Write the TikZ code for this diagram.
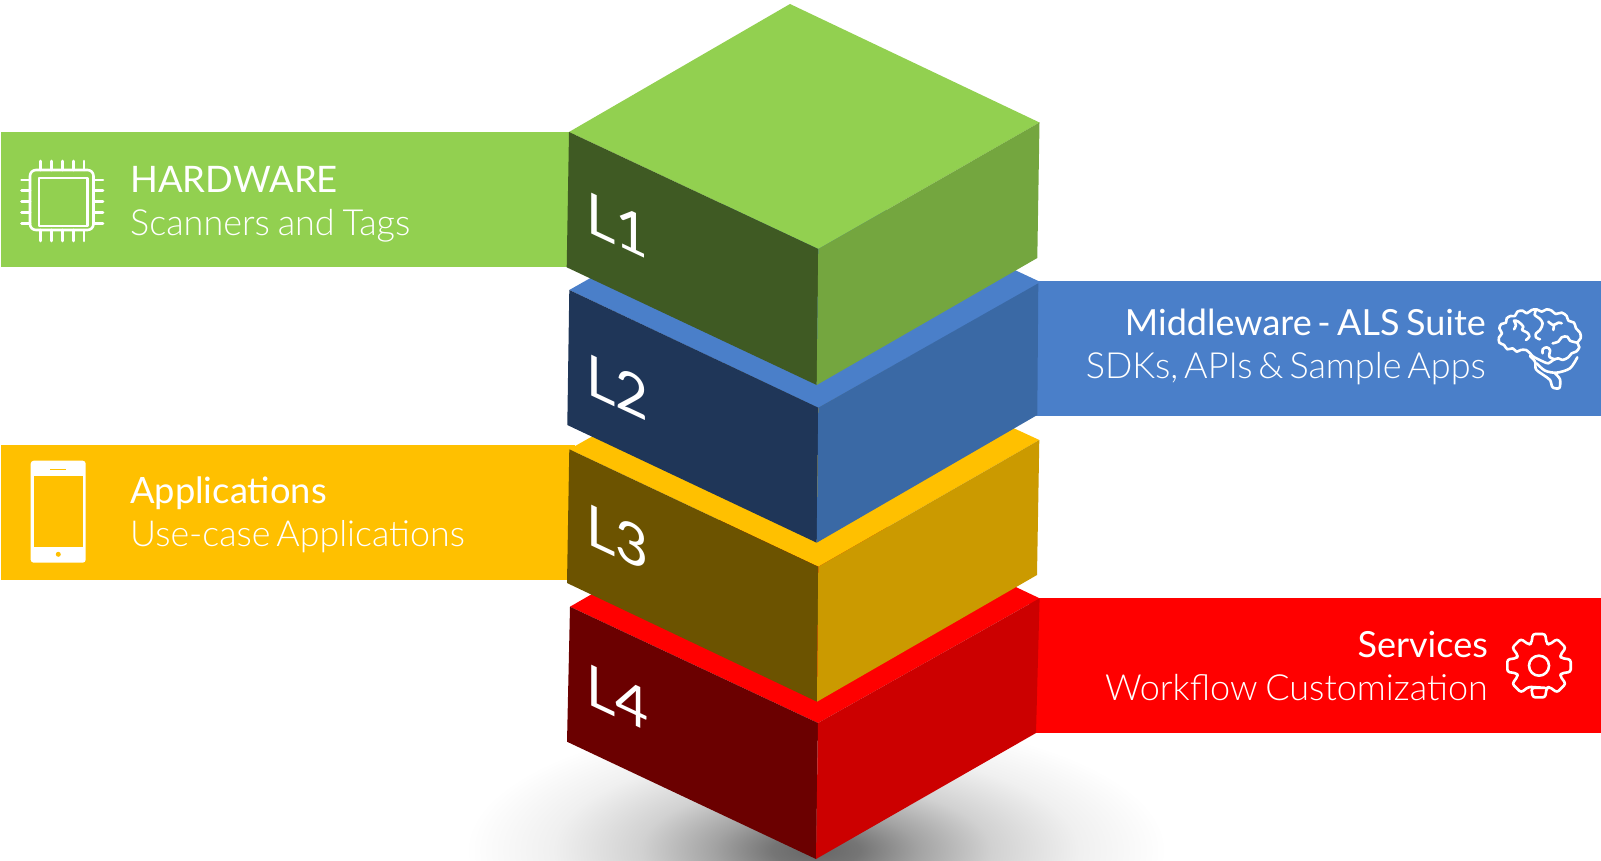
\documentclass[tikz,border=0pt]{standalone}
\usepackage{fontspec}
\setmainfont{Lato}[WordSpace=0.6]
\newfontfamily\latolight{Lato Light}[WordSpace=0.6]
\newfontfamily\latolvl{Lato}
\usetikzlibrary{calc}
\definecolor{grA}{HTML}{92D050}\definecolor{grB}{HTML}{3F5A23}\definecolor{grC}{HTML}{74A63F}
\definecolor{blA}{HTML}{4A7FC9}\definecolor{blB}{HTML}{1F3658}\definecolor{blC}{HTML}{3A69A5}
\definecolor{yeA}{HTML}{FFC000}\definecolor{yeB}{HTML}{6C5300}\definecolor{yeC}{HTML}{CB9A00}
\definecolor{reA}{HTML}{FF0000}\definecolor{reB}{HTML}{6B0000}\definecolor{reC}{HTML}{CC0000}
\pgfdeclareradialshading{floorshade}{\pgfpoint{0bp}{0bp}}{color(0bp)=(black!60);color(3bp)=(black!54);color(7bp)=(black!36);color(12bp)=(black!18);color(18bp)=(black!6);color(24bp)=(white);color(50bp)=(white)}
\tikzset{
  title/.style={text=white,font=\fontsize{36}{36}\selectfont,inner sep=0pt},
  sub/.style={text=white,font=\latolight\fontsize{36}{36}\selectfont,inner sep=0pt},
  lvl/.style={text=white,font=\latolvl\fontsize{57}{57}\selectfont,inner sep=0pt,anchor=base west,cm={1,-0.47,0,1,(0,0)}},
  icon/.style={draw=white,line width=2.6pt,line join=round,line cap=round},
}
\begin{document}
\begin{tikzpicture}[x=1pt,y=-1pt]
\useasboundingbox (0,0) rectangle (1601,861);
\begin{scope}
\clip (0,0) rectangle (1601,861);
\shade[shading=floorshade] (816,850) ellipse (365 and 140);
\end{scope}
% banners
\fill[grA] (1,132) rectangle (575,267);
\fill[blA] (1030,281) rectangle (1601,415.5);
\fill[yeA] (1,445) rectangle (575,580);
\fill[reA] (1030,598) rectangle (1601,732.5);
% L4
\fill[reA] (570,606.7) -- (790,480) -- (1039.6,598.3) -- (818,723) -- cycle;
\fill[reB] (570,606.7) -- (818,723) -- (816,859) -- (567,741.7) -- cycle;
\fill[reC] (818,723) -- (1039.6,598.3) -- (1036,733) -- (816,859) -- cycle;
% L3
\fill[yeA] (569.3,449.3) -- (790,325) -- (1039.3,440) -- (818.3,566.7) -- cycle;
\fill[yeB] (569.3,449.3) -- (818.3,566.7) -- (817,701.7) -- (567,583) -- cycle;
\fill[yeC] (818.3,566.7) -- (1039.3,440) -- (1037,575) -- (817,701.7) -- cycle;
% L2
\fill[blA] (569.3,290) -- (790,165) -- (1038.3,281) -- (1038.3,284) -- (818.3,408) -- cycle;
\fill[blB] (569.3,290) -- (818.3,407.7) -- (816.7,542.7) -- (567.3,425) -- cycle;
\fill[blC] (818.3,407.7) -- (1038.3,283.3) -- (1037.3,415) -- (816.7,542.7) -- cycle;
% L1
\fill[grA] (569,132) -- (790,4) -- (1039.5,122.5) -- (818.3,249) -- cycle;
\fill[grB] (569,132) -- (818.3,249) -- (816.7,385) -- (566.7,267.3) -- cycle;
\fill[grC] (818.3,249) -- (1039.5,122.5) -- (1037.3,258) -- (816.7,385) -- cycle;
% level labels
\node[lvl] (l1) at (586,231) {L1};
\node[lvl] (l2) at (586,393) {L2};
\node[lvl] (l3) at (586,543) {L3};
\node[lvl] (l4) at (586,703) {L4};
% texts
\node[title,anchor=base west,font=\fontsize{36.5}{36}\selectfont] (t1) at (130,193) {HARDWARE};
\node[sub,anchor=base west] (s1) at (130,235.5) {Scanners\hspace{2pt} and\hspace{2pt} Tags};
\node[title,anchor=base east] (t2) at (1486,335) {Middleware -\hspace{1pt} ALS\hspace{1pt} Suite};
\node[sub,anchor=base east] (s2) at (1486,378) {SDKs, APIs \& Sample Apps};
\node[title,anchor=base west,font=\fontsize{36.3}{36}\selectfont] (t3) at (130,503) {Applications};
\node[sub,anchor=base west,font=\latolight\fontsize{35.8}{36}\selectfont] (s3) at (130,546) {Use-case Applications};
\node[title,anchor=base east] (t4) at (1488,657) {Services};
\node[sub,anchor=base east] (s4) at (1488,700) {Workflow\hspace{2pt} Customization};
% chip icon
\draw[icon,rounded corners=6pt] (30,170) rectangle (93.5,230);
\draw[icon] (39,178) rectangle (87.5,226);
\foreach \v in {40.7,51.7,62.7,73.3,84}{
  \draw[icon] (\v,161) -- (\v,170);
  \draw[icon] (\v,230) -- (\v,241);
}
\foreach \v in {180,190.7,201.7,212.3,223.3}{
  \draw[icon] (21.5,\v) -- (30,\v);
  \draw[icon] (93.5,\v) -- (103,\v);
}
% phone icon
\fill[white,rounded corners=3pt] (30.7,460.7) rectangle (85.7,562.7);
\fill[yeA] (34,475.5) rectangle (82.7,547);
\draw[yeA,line width=1pt] (50,469) -- (65.7,469);
\fill[yeA] (58.3,554.3) circle (2.5);
% gear icon
\begin{scope}[shift={(1539,665.7)}]
\draw[icon,rounded corners=2.5pt] (90-19:23.5)
  \foreach \a in {90,45,0,-45,-90,-135,-180,-225}{
    -- (\a+19:23.5) -- (\a+11:32.3) -- (\a-11:32.3) -- (\a-19:23.5)
  } -- cycle;
\draw[icon] (0,0) circle (10);
\end{scope}
% brain icon
\begin{scope}[shift={(1490,300)},x=0.3333pt,y=-0.3333pt]
\tikzset{brain/.style={icon}}
\draw[brain] plot[smooth,tension=0.55] coordinates {(122,162)(108,150)(92,150)(80,155)(68,145)(52,148)(42,135)(28,128)(27,112)(36,100)(28,85)(34,72)(48,68)(50,55)(62,48)(75,48)(82,35)(98,32)(110,40)(125,30)(140,28)(155,35)(170,28)(185,32)(197,42)(215,38)(230,48)(235,62)(252,68)(258,85)(270,98)(272,115)(262,128)(268,142)(258,155)(245,160)(235,172)(218,180)(205,175)(190,180)(175,190)(160,185)(145,178)(130,170)(122,162)};
\draw[brain] plot[smooth,tension=0.6] coordinates {(138,30)(134,45)(148,55)(158,70)(150,90)(138,100)(138,112)(150,118)};
\draw[brain] plot[smooth,tension=0.6] coordinates {(72,88)(78,75)(72,62)(85,65)(100,80)(96,90)(112,98)(118,110)(108,120)};
\draw[brain] plot[smooth,tension=0.6] coordinates {(175,65)(190,75)(205,68)(215,70)};
\draw[brain] (192,76) -- (190,90);
\draw[brain] plot[smooth,tension=0.6] coordinates {(188,130)(205,125)(215,112)(232,110)(240,122)(262,128)};
\draw[brain] plot[smooth,tension=0.6] coordinates {(158,160)(158,148)(170,142)(180,150)(178,170)(195,178)};
\draw[brain] plot[smooth] coordinates {(120,168)(135,185)(138,208)(160,225)(180,240)(188,262)(208,264)(210,238)(195,220)};
\draw[brain] plot[smooth] coordinates {(140,190)(165,212)(200,218)(240,205)(262,172)};
\end{scope}
\end{tikzpicture}
\end{document}
